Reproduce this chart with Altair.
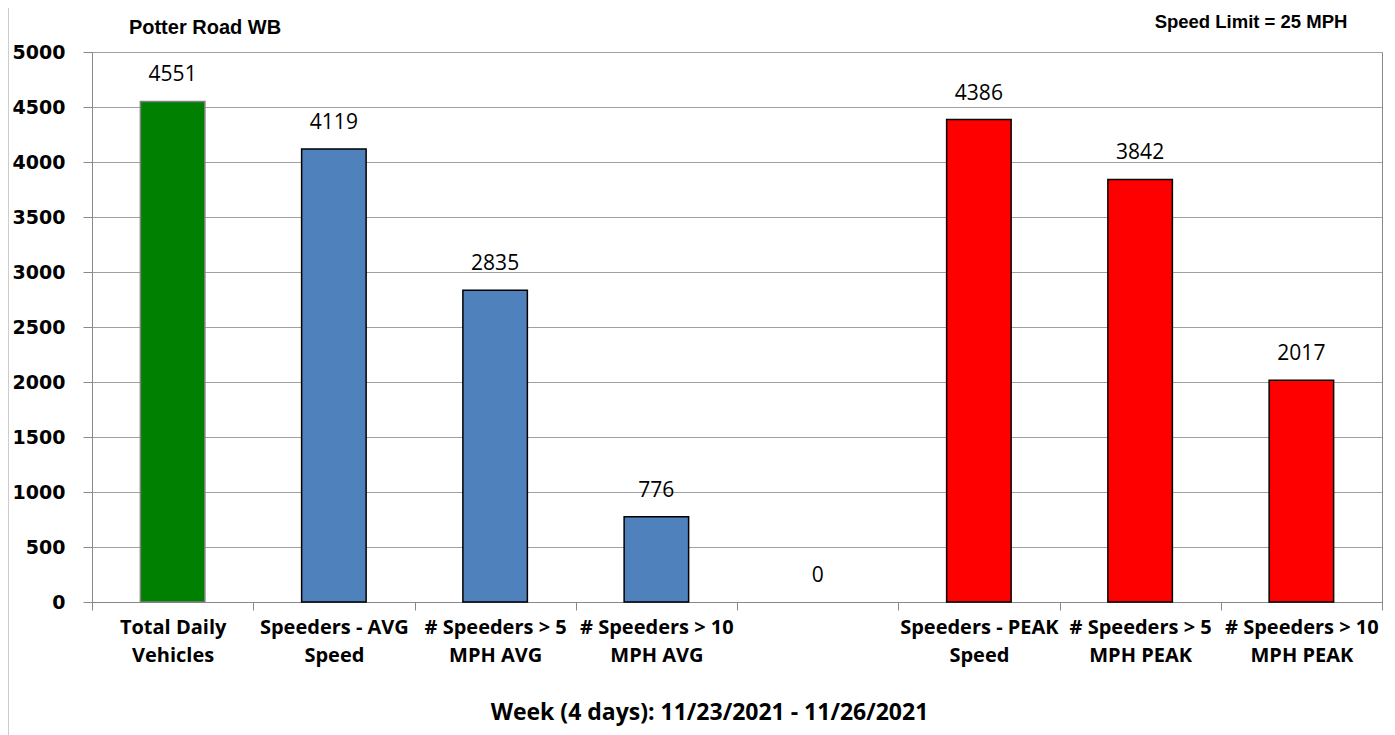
import altair as alt
import pandas as pd

categories = [
    "Total Daily|Vehicles",
    "Speeders - AVG|Speed",
    "# Speeders > 5|MPH AVG",
    "# Speeders > 10|MPH AVG",
    " ",
    "Speeders - PEAK|Speed",
    "# Speeders > 5|MPH PEAK",
    "# Speeders > 10|MPH PEAK",
]
values = [4551, 4119, 2835, 776, 0, 4386, 3842, 2017]
fills = ["#008000", "#4F81BD", "#4F81BD", "#4F81BD", "transparent", "#FF0000", "#FF0000", "#FF0000"]
strokes = ["#808080", "black", "black", "black", "transparent", "black", "black", "black"]
y_ticks = [0, 500, 1000, 1500, 2000, 2500, 3000, 3500, 4000, 4500, 5000]
chart_title = "Potter Road WB"
note_text = "Speed Limit = 25 MPH"
x_title = "Week (4 days): 11/23/2021 - 11/26/2021"

df = pd.DataFrame({"cat": categories, "value": values, "fill": fills, "stroke": strokes})
one = pd.DataFrame({"t": [chart_title], "n": [note_text]})

x_enc = alt.X(
    "cat:N",
    sort=categories,
    scale=alt.Scale(paddingInner=0, paddingOuter=0),
    axis=alt.Axis(
        title=x_title,
        labelExpr="split(datum.label, '|')",
        labelAngle=0,
        tickBand="extent",
        labelFont="Open Sans",
        labelFontWeight="bold",
        labelFontSize=20,
        labelLineHeight=28,
        labelPadding=7,
        labelLimit=0,
        labelColor="black",
        tickSize=8,
        tickColor="#888888",
        domainColor="#888888",
        titleFont="Open Sans",
        titleFontWeight="bold",
        titleFontSize=23,
        titleColor="black",
        titleX=617,
        titleY=110,
        titleBaseline="middle",
        titleAlign="center",
    ),
)
y_enc = alt.Y(
    "value:Q",
    scale=alt.Scale(domain=[0, 5000], nice=False),
    axis=alt.Axis(
        values=y_ticks,
        format="d",
        title=None,
        labelFont="DejaVu Sans",
        labelFontWeight="bold",
        labelFontSize=19,
        labelColor="black",
        tickSize=9,
        labelPadding=18,
        tickColor="#888888",
        domainColor="#888888",
        grid=True,
        gridColor="#A0A0A0",
    ),
)

bars = alt.Chart(df).mark_bar(width=alt.RelativeBandSize(0.4), strokeWidth=1.5).encode(
    x=x_enc,
    y=y_enc,
    fill=alt.Fill("fill:N", scale=None),
    stroke=alt.Stroke("stroke:N", scale=None),
)

labels = alt.Chart(df).mark_text(
    dy=-26, baseline="middle", font="Open Sans", fontSize=21, color="black"
).encode(x=alt.X("cat:N", sort=categories), y="value:Q", text="value:Q")

title_t = alt.Chart(one).mark_text(
    font="Liberation Sans", fontWeight="bold", fontSize=20, color="black", align="center", baseline="middle"
).encode(x=alt.value(113), y=alt.value(-24), text="t:N")

note_t = alt.Chart(one).mark_text(
    font="Liberation Sans", fontWeight="bold", fontSize=18.5, color="black", align="center", baseline="middle"
).encode(x=alt.value(1159), y=alt.value(-30), text="n:N")

border = alt.Chart(one).mark_rule(color="#999999", strokeWidth=1).encode(
    x=alt.value(-84), y=alt.value(-44), y2=alt.value(700)
)

chart = alt.layer(bars, labels, title_t, note_t, border).properties(
    width=1290,
    height=550,
    autosize=alt.AutoSizeParams(type="none"),
    padding={"left": 84, "top": 44, "right": 5, "bottom": 135},
).configure_view(stroke="#888888")

chart.save("out.html", embed_options={"renderer": "svg", "actions": False})
